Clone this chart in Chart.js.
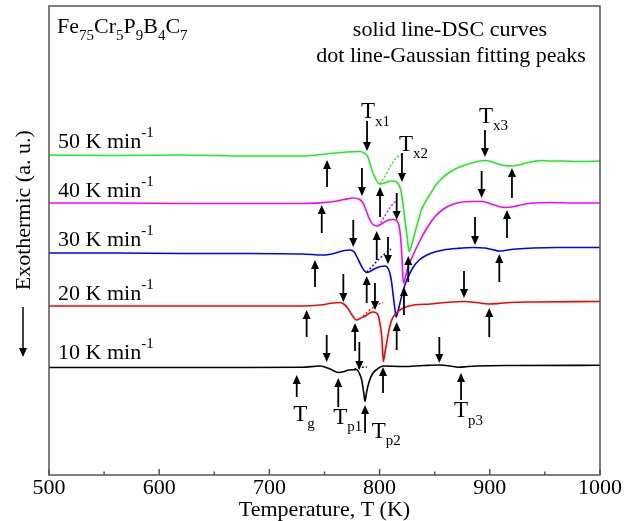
<!DOCTYPE html>
<html><head><meta charset="utf-8">
<script src="https://cdn.jsdelivr.net/npm/chart.js@4/dist/chart.umd.min.js"></script>
<style>html,body{margin:0;padding:0;background:#fff;}</style>
</head><body>
<canvas id="c" width="635" height="521"></canvas>
<script>
const FONT = '"Liberation Serif","Times New Roman",serif';

// ---- DSC curves (T in K, heat flow in a.u., curves vertically offset) ----
const t50 = [500,560,620,680,730,755,770,782,786,789,793,797,800,803,807,811,814.5,817,819,821,823,825,826.7,828.5,831,835,838,842,846,851,855,860,867,875,882,889,896,901,906,913,920,926,933,940,946,955,966,980,1000];
const y50 = [32.0,31.95,32.0,31.9,31.9,32.15,32.3,32.35,32.2,31.9,30.5,29.5,29.1,29.15,29.3,29.4,29.35,29.1,28.6,27.3,25.5,23.8,22.35,22.8,23.8,25.4,26.5,27.4,28.1,29.0,29.5,30.0,30.5,30.9,31.15,31.35,31.45,31.35,31.15,30.95,30.9,31.0,31.2,31.35,31.45,31.4,31.4,31.35,31.4];

const t40 = [500,560,620,680,730,755,768,776,782,785,788,790,794,798,803,808,812,815.5,817.5,819,820.3,821.5,823,825.5,830,836,843,850,858,866,875,885,893,900,908,915,922,930,940,955,975,1000];
const y40 = [27.2,27.2,27.15,27.15,27.15,27.3,27.55,27.7,27.55,27.2,26.4,25.8,25.05,24.9,25.2,25.5,25.55,25.45,25.0,23.8,21.8,19.2,19.6,20.7,21.9,23.3,24.7,25.8,26.6,27.05,27.3,27.35,27.35,27.15,26.85,26.75,26.85,27.05,27.2,27.25,27.2,27.2];

const t30 = [500,560,620,680,730,749,760,768,773,777,779.5,784,788.3,792,796,801,805,808,809.5,811,812.5,814,815,816.5,818.5,821.5,825,830.6,836,843,850,858,870,885,895,902,909,916,924,940,960,1000];
const y30 = [22.2,22.2,22.15,22.15,22.1,22.0,22.2,22.45,22.5,22.3,21.8,20.8,20.25,20.4,20.65,20.85,20.9,20.6,20.1,19.2,17.8,16.5,15.8,16.3,17.2,18.5,19.6,20.8,21.5,22.0,22.3,22.5,22.65,22.75,22.7,22.55,22.4,22.5,22.6,22.7,22.75,22.75];

const t20 = [500,560,620,680,730,746,758,764,768,771,775,779,783,787,791,794.3,797,799,800.5,802,803.4,804.8,806.4,808.5,811,815,818.5,825,831,846,860,876,888,899,908,918,940,1000];
const y20 = [16.9,16.9,16.9,16.9,16.9,17.0,17.2,17.25,17.05,16.7,16.0,15.5,15.7,15.9,16.2,16.3,16.2,15.9,15.0,13.8,11.35,12.2,13.2,14.5,15.5,16.2,16.5,16.85,17.0,17.1,17.25,17.35,17.25,17.1,17.15,17.25,17.3,17.35];

const t10 = [500,600,680,730,746,755,762.5,768,772,779,781.5,783.8,785.5,786.8,788.2,791,794,797.4,803,821,840,855,864,871.4,880,888,920,1000];
const y10 = [10.75,10.75,10.75,10.77,10.9,10.6,10.25,10.35,10.5,10.55,10.2,9.5,8.3,7.35,8.3,9.5,10.2,10.55,10.9,10.85,10.95,11.0,10.9,10.77,10.85,10.9,10.95,10.97];

// ---- Gaussian fitting peaks (dotted) ----
const g50T = [800.4,805,810,815,820.3];   const g50Y = [29.1,29.9,30.9,31.7,32.1];
const g40T = [798.8,803,808,812,815.8];   const g40Y = [24.9,25.6,26.5,27.1,27.5];
const g30T = [788.3,792,796,800,804,810.3]; const g30Y = [20.3,20.7,21.2,21.65,22.05,22.6];
const g20T = [784.9,789,793,797.6,803.1]; const g20Y = [15.85,16.3,16.65,17.0,17.25];
const g10T = [777,782,788.5];             const g10Y = [10.55,10.75,10.8];

// ---- characteristic-temperature arrows (T, from, to in a.u.) ----
const downT    = [788.6,784.0,776.1,767.1,752.0,820.3,815.5,807.6,795.8,781.6,895.6,892.6,886.6,876.6,854.2];
const downFrom = [35.4,30.7,25.5,20.1,14.0,32.2,28.2,23.8,19.2,13.3,34.5,30.4,25.8,20.4,13.8];
const downTo   = [32.4,27.9,22.8,17.3,11.3,29.3,25.5,21.1,16.5,10.5,31.8,27.7,23.0,17.7,11.2];
const upT    = [752.3,747.5,741.4,733.8,724.8,800.4,797.4,788.3,777.7,762.5,826.0,822.1,815.5,803.1,786.8,920.1,915.6,908.6,899.5,873.9];
const upFrom = [28.8,24.2,18.8,13.8,7.8,25.8,21.5,17.2,12.4,6.8,19.3,16.0,12.5,8.2,4.2,27.7,23.7,19.3,13.8,7.5];
const upTo   = [31.5,27.0,21.5,16.5,10.0,28.8,24.4,19.9,15.2,9.7,21.9,18.8,15.3,10.8,7.0,30.7,26.5,22.1,16.7,10.2];

// ---- text labels ----
const rateLabels = ['50','40','30','20','10'];
const rateY = [32.67,27.83,22.9,17.5,11.57];
const rateT = 508.2;
const tLabelSub = ['x1','x2','x3','g','p1','p2','p3'];
const tLabelT = [783.1,817.6,890.2,721.7,758.0,792.8,867.5];
const tLabelY = [35.67,32.43,35.23,5.43,5.1,3.7,5.77];
const xTickLabels = [500,600,700,800,900,1000];
const xMinorTicks = [550,650,750,850,950];

const pts = (t, y) => t.map((v, i) => ({x: v, y: y[i]}));
const solid = (t, y, c) => ({data: pts(t, y), borderColor: c, borderWidth: 1.6, pointRadius: 0, fill: false, cubicInterpolationMode: 'monotone'});
const dotted = (t, y, c) => ({data: pts(t, y), borderColor: c, borderWidth: 1.4, borderDash: [2, 2], pointRadius: 0, fill: false, cubicInterpolationMode: 'monotone'});

const C50 = '#19f019', C40 = '#ff00ff', C30 = '#0000ff', C20 = '#ff0000', C10 = '#000000';

function rich(ctx, x, y, parts, size) {
  let cx = x;
  ctx.textAlign = 'left'; ctx.textBaseline = 'alphabetic';
  for (const [txt, mode] of parts) {
    const s = mode === 0 ? size : Math.round(size * 0.66);
    ctx.font = s + 'px ' + FONT;
    const dy = mode === 1 ? size * 0.32 : mode === 2 ? -size * 0.5 : 0;
    ctx.fillText(txt, cx, y + dy);
    cx += ctx.measureText(txt).width;
  }
}

function arrow(ctx, x, y1, y2) {
  const dir = Math.sign(y2 - y1), hl = 9, hw = 4;
  ctx.beginPath(); ctx.moveTo(x, y1); ctx.lineTo(x, y2 - dir * hl); ctx.stroke();
  ctx.beginPath(); ctx.moveTo(x, y2); ctx.lineTo(x - hw, y2 - dir * hl); ctx.lineTo(x + hw, y2 - dir * hl); ctx.closePath(); ctx.fill();
}

const deco = {
  id: 'deco',
  afterDatasetsDraw(chart) {
    const {ctx, chartArea: ca, scales: {x, y}} = chart;
    ctx.save();
    ctx.fillStyle = '#000'; ctx.strokeStyle = '#000'; ctx.lineWidth = 1.8;
    downT.forEach((t, i) => arrow(ctx, x.getPixelForValue(t), y.getPixelForValue(downFrom[i]), y.getPixelForValue(downTo[i])));
    upT.forEach((t, i) => arrow(ctx, x.getPixelForValue(t), y.getPixelForValue(upFrom[i]), y.getPixelForValue(upTo[i])));
    rateLabels.forEach((r, i) => rich(ctx, x.getPixelForValue(rateT), y.getPixelForValue(rateY[i]), [[r + ' K min', 0], ['-1', 2]], 22));
    tLabelSub.forEach((s, i) => rich(ctx, x.getPixelForValue(tLabelT[i]), y.getPixelForValue(tLabelY[i]), [['T', 0], [s, 1]], 23));
    rich(ctx, ca.left + 8, ca.top + 27, [['Fe',0],['75',1],['Cr',0],['5',1],['P',0],['9',1],['B',0],['4',1],['C',0],['7',1]], 22);
    ctx.font = '22px ' + FONT; ctx.textAlign = 'center'; ctx.textBaseline = 'alphabetic';
    ctx.fillText('solid line-DSC curves', ca.left + 401, ca.top + 30);
    ctx.fillText('dot line-Gaussian fitting peaks', ca.left + 402, ca.top + 56);
    ctx.strokeStyle = '#555'; ctx.lineWidth = 1.5;
    ctx.strokeRect(ca.left, ca.top, ca.right - ca.left, ca.bottom - ca.top);
    ctx.beginPath();
    xTickLabels.forEach(v => { const p = x.getPixelForValue(v); ctx.moveTo(p, ca.bottom); ctx.lineTo(p, ca.bottom - 6); });
    xMinorTicks.forEach(v => { const p = x.getPixelForValue(v); ctx.moveTo(p, ca.bottom); ctx.lineTo(p, ca.bottom - 3.5); });
    ctx.stroke();
    ctx.fillStyle = '#000'; ctx.strokeStyle = '#000'; ctx.lineWidth = 1.5;
    arrow(ctx, y.left + 23, 307, 357);
    ctx.restore();
  }
};

new Chart(document.getElementById('c'), {
  type: 'line',
  data: {
    datasets: [
      solid(t10, y10, C10), solid(t20, y20, C20), solid(t30, y30, C30), solid(t40, y40, C40), solid(t50, y50, C50),
      dotted(g10T, g10Y, C10), dotted(g20T, g20Y, C20), dotted(g30T, g30Y, C30), dotted(g40T, g40Y, C40), dotted(g50T, g50Y, C50)
    ]
  },
  options: {
    responsive: false, animation: false, devicePixelRatio: 1,
    layout: {padding: {left: 0, right: 35, top: 6, bottom: 0}},
    plugins: {legend: {display: false}, tooltip: {enabled: false}},
    scales: {
      x: {
        type: 'linear', min: 500, max: 1000,
        afterBuildTicks: s => { s.ticks = xTickLabels.map(v => ({value: v})); },
        ticks: {font: {family: FONT, size: 22}, color: '#000', padding: 0, maxRotation: 0, callback: v => String(v)},
        grid: {display: false, drawTicks: false}, border: {display: false},
        title: {display: true, text: 'Temperature, T (K)', font: {family: FONT, size: 22}, color: '#000', padding: {top: 0, bottom: -2}},
        afterFit: s => { s.height = 46; }
      },
      y: {
        type: 'linear', min: 0, max: 46.9,
        ticks: {display: false},
        grid: {display: false, drawTicks: false}, border: {display: false},
        title: {display: true, text: '           Exothermic (a. u.)', font: {family: FONT, size: 22}, color: '#000', padding: {top: 11, bottom: 0}},
        afterFit: s => { s.width = 49; }
      }
    }
  },
  plugins: [deco]
});
</script>
</body></html>
